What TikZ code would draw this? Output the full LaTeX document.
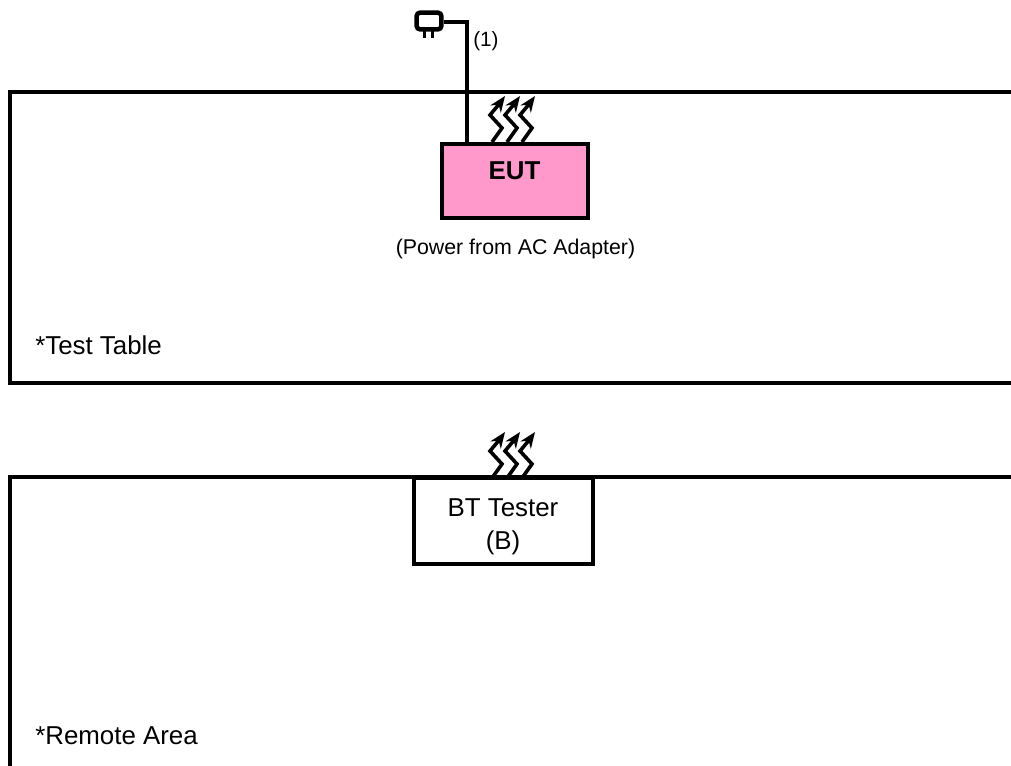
\documentclass[tikz,border=0pt]{standalone}
\usepackage{fontspec}
\setmainfont{Liberation Sans}
\usetikzlibrary{arrows.meta}
\definecolor{eutpink}{RGB}{255,153,204}
\tikzset{
  x=0.75pt,y=-0.75pt,
  frame/.style={line width=3pt,draw=black,line join=miter},
  wire/.style={line width=3pt,draw=black},
  wave/.style={line width=2.7pt,draw=black,line join=miter,-{Stealth[length=12pt,width=9.5pt]}},
  lbl/.style={font=\fontsize{19.4}{25}\selectfont,text=black,inner sep=0pt},
  small/.style={font=\fontsize{16}{19}\selectfont,text=black,inner sep=0pt},
  boxs/.style={draw=black,line width=3pt,inner sep=0pt}
}
\newcommand{\wavy}[2]{%
  \draw[wave] (#1+1,#2) -- (#1+11,#2-14) -- (#1-1,#2-27) -- (#1+9,#2-39) -- (#1+14,#2-46);}
\begin{document}
\begin{tikzpicture}
\useasboundingbox (0,0) rectangle (1011,765);
\draw[frame] (1012,91.5) -- (9.5,91.5) -- (9.5,383) -- (1012,383);
\draw[frame] (1012,477) -- (9.5,477) -- (9.5,766);
\node[boxs,fill=eutpink,minimum width=109.5pt,minimum height=56pt] (eut) at (515,181) {};
\node[boxs,fill=white,minimum width=134pt,minimum height=65pt] (bt) at (503.5,521) {};
\node[lbl,font=\fontsize{19.4}{25}\selectfont\bfseries] (euttext) at (514.5,171) {EUT};
\node[lbl,align=center] (bttext) at (503,526.5) {BT Tester\\(B)};
\node[small,anchor=base] (pw) at (515.5,254) {(Power from AC Adapter)};
\node[lbl,anchor=base west] (tt) at (35,354) {*Test Table};
\node[lbl,anchor=base west] (ra) at (35,744) {*Remote Area};
\node[small,anchor=base west,font=\fontsize{15.5}{19}\selectfont] (one) at (473,46) {(1)};
\node[draw=black,line width=3.4pt,rounded corners=2.5pt,minimum width=18.5pt,minimum height=12.5pt,inner sep=0pt] (plug) at (429,21) {};
\coordinate (c) at (466.5,22);
\draw[wire] (plug.east |- c) -- (c) -- (c |- eut.north);
\draw[line width=2.5pt] (424.5,30) -- (424.5,38) (432.5,30) -- (432.5,38);
\wavy{491}{142}
\wavy{506}{142}
\wavy{521}{142}
\wavy{491}{478}
\wavy{506}{478}
\wavy{521}{478}
\end{tikzpicture}
\end{document}
